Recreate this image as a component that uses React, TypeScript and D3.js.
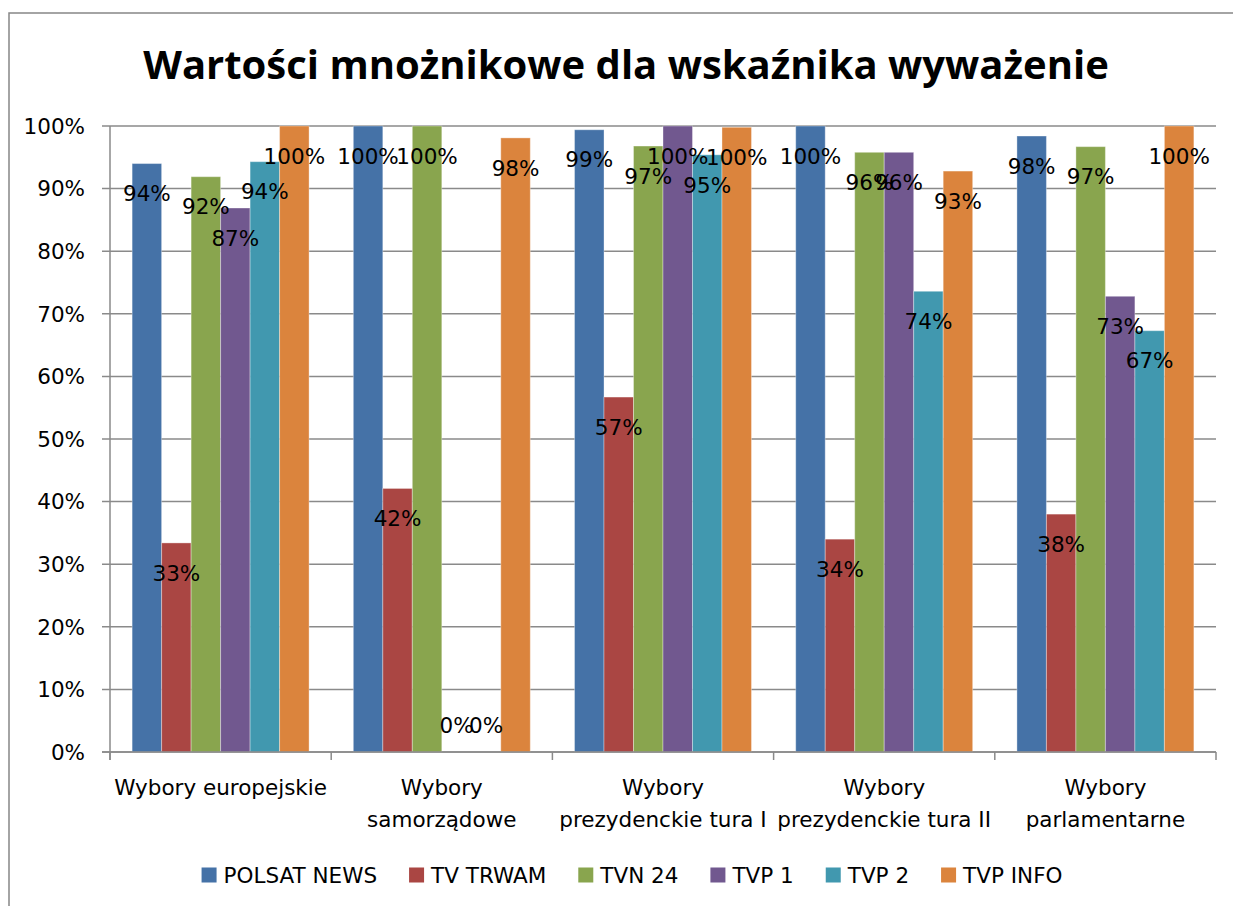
import React, { useEffect, useRef } from "react";
import * as d3 from "d3";

// categories (as displayed, wrapped like the original)
const categories = [
  "Wybory europejskie",
  "Wybory samorządowe",
  "Wybory prezydenckie tura I",
  "Wybory prezydenckie tura II",
  "Wybory parlamentarne",
];
const categoryLines = [
  ["Wybory europejskie"],
  ["Wybory", "samorządowe"],
  ["Wybory", "prezydenckie tura I"],
  ["Wybory", "prezydenckie tura II"],
  ["Wybory", "parlamentarne"],
];

const series = ["POLSAT NEWS", "TV TRWAM", "TVN 24", "TVP 1", "TVP 2", "TVP INFO"];
const colors = ["#4572A7", "#AA4643", "#89A54E", "#71588F", "#4198AF", "#DB843D"];

// values in %, per series, in category order
const polsatNews = [94.0, 100, 99.4, 100, 98.4];
const tvTrwam = [33.4, 42.1, 56.7, 34.0, 38.0];
const tvn24 = [91.9, 100, 96.8, 95.8, 96.7];
const tvp1 = [86.9, 0, 100, 95.8, 72.8];
const tvp2 = [94.3, 0, 95.4, 73.6, 67.3];
const tvpInfo = [100, 98.1, 99.8, 92.8, 100];
const seriesValues = [polsatNews, tvTrwam, tvn24, tvp1, tvp2, tvpInfo];

const yTicks = [0, 10, 20, 30, 40, 50, 60, 70, 80, 90, 100];

const title = "Wartości mnożnikowe dla wskaźnika wyważenie";

const W = 1233;
const H = 906;
const FONT = "'DejaVu Sans', sans-serif";
const FS = 21.5;

const App = () => {
  const ref = useRef<SVGSVGElement>(null);

  useEffect(() => {
    const svg = d3.select(ref.current);
    svg.selectAll("*").remove();

    const margin = { top: 126, right: 17, bottom: 154, left: 110 };
    const left = margin.left;
    const right = W - margin.right;
    const top = margin.top;
    const bottom = H - margin.bottom;

    // chart frame
    svg.append("rect")
      .attr("x", 9)
      .attr("y", 13)
      .attr("width", W + 20)
      .attr("height", H + 20)
      .attr("fill", "#fff")
      .attr("stroke", "#878787")
      .attr("stroke-width", 1.5);

    // title
    svg.append("text")
      .attr("x", 626)
      .attr("y", 79)
      .attr("text-anchor", "middle")
      .attr("font-family", "'Open Sans', sans-serif")
      .attr("font-weight", "bold")
      .attr("font-size", 40)
      .text(title);

    const x = d3.scaleBand().domain(categories).range([left, right]).paddingInner(0).paddingOuter(0);
    const xs = d3.scaleBand().domain(series).range([0, x.bandwidth()]).paddingInner(0).paddingOuter(0.75);
    const y = d3.scaleLinear().domain([0, 100]).range([bottom, top]);

    // gridlines + y ticks
    const g = svg.append("g");
    g.selectAll("line.grid")
      .data(yTicks)
      .join("line")
      .attr("class", "grid")
      .attr("x1", left - 8)
      .attr("x2", right)
      .attr("y1", d => y(d))
      .attr("y2", d => y(d))
      .attr("stroke", "#8a8a8a")
      .attr("stroke-width", 1.5);

    g.selectAll("text.ytick")
      .data(yTicks)
      .join("text")
      .attr("class", "ytick")
      .attr("x", left - 25)
      .attr("y", d => y(d))
      .attr("dy", "0.36em")
      .attr("text-anchor", "end")
      .attr("font-family", FONT)
      .attr("font-size", FS)
      .text(d => `${d}%`);

    // bars
    series.forEach((s, si) => {
      svg.append("g")
        .selectAll("rect")
        .data(seriesValues[si])
        .join("rect")
        .attr("x", (d, i) => x(categories[i])! + xs(s)!)
        .attr("y", d => y(d))
        .attr("width", xs.bandwidth())
        .attr("height", d => bottom - y(d))
        .attr("fill", colors[si])
        .attr("stroke", "rgba(255,255,255,0.35)")
        .attr("stroke-width", 1);
    });

    // axes lines
    svg.append("line")
      .attr("x1", left).attr("x2", left)
      .attr("y1", top).attr("y2", bottom + 8)
      .attr("stroke", "#8a8a8a").attr("stroke-width", 1.5);
    svg.append("line")
      .attr("x1", left - 8).attr("x2", right)
      .attr("y1", bottom).attr("y2", bottom)
      .attr("stroke", "#8a8a8a").attr("stroke-width", 1.5);
    const bounds = categories.map(c => x(c)!).concat([right]);
    svg.selectAll("line.xtick")
      .data(bounds)
      .join("line")
      .attr("class", "xtick")
      .attr("x1", d => d).attr("x2", d => d)
      .attr("y1", bottom).attr("y2", bottom + 8)
      .attr("stroke", "#8a8a8a").attr("stroke-width", 1.5);

    // data labels
    series.forEach((s, si) => {
      svg.append("g")
        .selectAll("text")
        .data(seriesValues[si])
        .join("text")
        .attr("x", (d, i) => x(categories[i])! + xs(s)! + xs.bandwidth() / 2)
        .attr("y", d => (d === 0 ? bottom - 27 : y(d) + 30))
        .attr("dy", "0.36em")
        .attr("text-anchor", "middle")
        .attr("font-family", FONT)
        .attr("font-size", FS)
        .text(d => `${Math.round(d)}%`);
    });

    // category labels
    categories.forEach((c, ci) => {
      const t = svg.append("text")
        .attr("text-anchor", "middle")
        .attr("font-family", FONT)
        .attr("font-size", FS);
      categoryLines[ci].forEach((line, li) => {
        t.append("tspan")
          .attr("x", x(c)! + x.bandwidth() / 2)
          .attr("y", bottom + 35 + li * 32)
          .attr("dy", "0.36em")
          .text(line);
      });
    });

    // legend
    const legend = svg.append("g");
    const items = legend.selectAll("g")
      .data(series)
      .join("g");
    items.append("rect")
      .attr("width", 15)
      .attr("height", 15)
      .attr("y", -7.5)
      .attr("fill", (d, i) => colors[i]);
    items.append("text")
      .attr("x", 22)
      .attr("dy", "0.36em")
      .attr("font-family", FONT)
      .attr("font-size", FS)
      .text(d => d);
    const widths: number[] = [];
    items.each(function () {
      const tx = d3.select(this).select("text").node() as SVGTextElement;
      widths.push(22 + tx.getComputedTextLength());
    });
    const gap = 32;
    const total = d3.sum(widths) + gap * (widths.length - 1);
    let cx = 632 - total / 2;
    items.attr("transform", (d, i) => {
      const tr = `translate(${cx},875)`;
      cx += widths[i] + gap;
      return tr;
    });
  }, []);

  return (
    <svg
      ref={ref}
      width={W}
      height={H}
      style={{ position: "absolute", left: 0, top: 0, background: "#fff" }}
    />
  );
};

export default App;
